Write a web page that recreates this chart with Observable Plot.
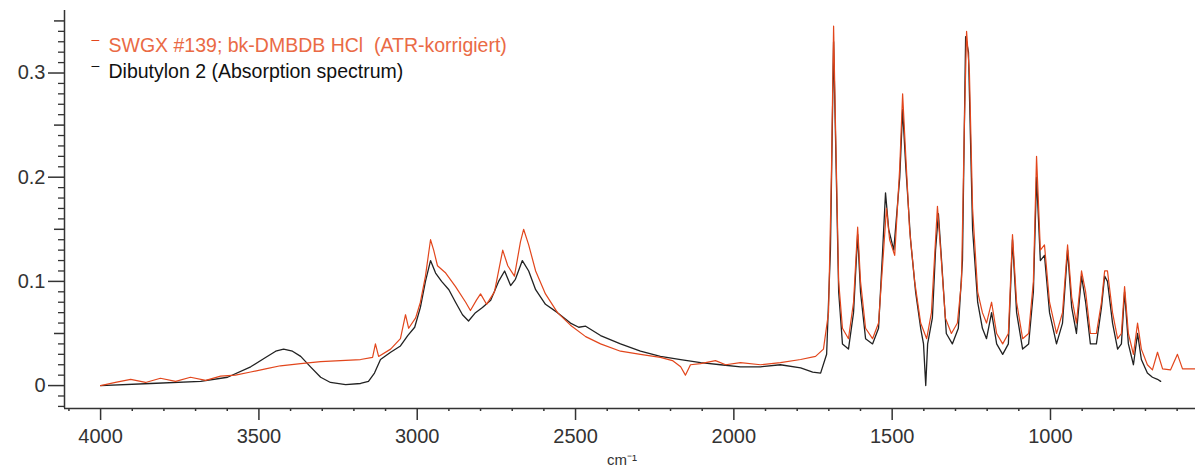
<!DOCTYPE html>
<html>
<head>
<meta charset="utf-8">
<script src="https://cdn.jsdelivr.net/npm/d3@7"></script>
<script src="https://cdn.jsdelivr.net/npm/@observablehq/plot@0.6"></script>
<style>
  html, body { margin: 0; padding: 0; background: #fff; }
  #chart { position: relative; width: 1195px; height: 475px; overflow: hidden; }
</style>
</head>
<body>
<div id="chart"></div>
<script>
// ---- data ----
const seriesNames = ["SWGX #139; bk-DMBDB HCl  (ATR-korrigiert)", "Dibutylon 2 (Absorption spectrum)"];

const redWn = [4000,3953,3905,3858,3811,3763,3716,3668,3621,3574,3526,3479,3432,3368,3305,3242,3179,3141,3132,3122,3084,3053,3037,3027,3005,2990,2974,2958,2948,2936,2910,2879,2847,2832,2813,2800,2781,2756,2730,2714,2693,2674,2664,2648,2626,2595,2557,2516,2468,2421,2358,2295,2232,2194,2168,2153,2137,2105,2058,2026,1979,1916,1853,1789,1742,1717,1701,1692,1685,1679,1669,1657,1638,1622,1609,1600,1584,1562,1543,1527,1518,1508,1492,1476,1467,1457,1445,1429,1410,1391,1376,1363,1357,1347,1332,1313,1294,1281,1272,1265,1256,1246,1230,1215,1202,1186,1170,1151,1133,1120,1107,1088,1069,1054,1044,1032,1019,1003,981,962,946,933,918,902,889,874,855,839,829,820,804,788,776,766,754,738,725,713,694,678,662,646,621,599,583,542];
const redAbs = [0.000,0.003,0.006,0.003,0.007,0.004,0.008,0.005,0.009,0.010,0.013,0.016,0.019,0.021,0.023,0.024,0.025,0.027,0.040,0.028,0.035,0.045,0.068,0.055,0.065,0.080,0.105,0.140,0.130,0.115,0.108,0.095,0.080,0.072,0.082,0.088,0.078,0.090,0.130,0.115,0.105,0.138,0.150,0.135,0.110,0.088,0.070,0.058,0.047,0.040,0.033,0.030,0.027,0.024,0.018,0.010,0.020,0.021,0.024,0.020,0.022,0.020,0.022,0.025,0.028,0.035,0.070,0.200,0.345,0.250,0.100,0.055,0.045,0.080,0.152,0.100,0.055,0.045,0.060,0.130,0.170,0.140,0.125,0.210,0.280,0.220,0.150,0.100,0.060,0.045,0.070,0.140,0.172,0.130,0.065,0.050,0.060,0.100,0.250,0.340,0.300,0.170,0.090,0.070,0.060,0.080,0.050,0.040,0.050,0.145,0.080,0.045,0.050,0.100,0.220,0.130,0.135,0.080,0.050,0.070,0.135,0.085,0.060,0.110,0.090,0.050,0.050,0.080,0.110,0.110,0.070,0.045,0.050,0.095,0.050,0.030,0.060,0.035,0.020,0.015,0.032,0.016,0.015,0.030,0.016,0.016];

const blackWn = [4000,3842,3684,3599,3526,3479,3447,3422,3394,3368,3337,3305,3274,3226,3179,3154,3135,3116,3084,3053,3030,3008,2990,2974,2958,2942,2923,2900,2879,2857,2838,2816,2794,2768,2743,2724,2705,2690,2668,2648,2626,2595,2557,2532,2516,2490,2468,2421,2358,2295,2232,2168,2105,2042,1979,1916,1853,1789,1751,1726,1707,1695,1685,1679,1669,1657,1638,1622,1609,1600,1584,1562,1543,1530,1521,1511,1495,1476,1467,1457,1442,1426,1410,1401,1394,1388,1373,1363,1354,1344,1329,1310,1291,1278,1268,1259,1246,1230,1215,1202,1186,1170,1151,1133,1120,1107,1088,1069,1054,1044,1032,1019,1003,981,962,946,933,918,902,889,874,855,839,829,820,804,788,776,766,754,738,725,713,694,678,662,652];
const blackAbs = [0.000,0.002,0.004,0.008,0.018,0.027,0.033,0.035,0.033,0.028,0.018,0.008,0.003,0.001,0.002,0.004,0.012,0.025,0.032,0.038,0.048,0.056,0.075,0.100,0.120,0.108,0.100,0.092,0.080,0.068,0.062,0.070,0.075,0.082,0.100,0.110,0.096,0.102,0.120,0.110,0.092,0.078,0.070,0.064,0.060,0.056,0.057,0.048,0.040,0.033,0.028,0.025,0.022,0.020,0.018,0.018,0.020,0.017,0.013,0.012,0.030,0.130,0.330,0.240,0.090,0.040,0.035,0.070,0.145,0.090,0.045,0.040,0.055,0.130,0.185,0.150,0.130,0.200,0.265,0.210,0.140,0.090,0.055,0.040,0.000,0.040,0.065,0.130,0.165,0.120,0.050,0.040,0.055,0.120,0.335,0.320,0.150,0.080,0.055,0.045,0.070,0.040,0.030,0.040,0.140,0.070,0.035,0.040,0.090,0.200,0.120,0.125,0.070,0.040,0.060,0.130,0.075,0.050,0.105,0.080,0.040,0.040,0.075,0.105,0.100,0.060,0.035,0.040,0.090,0.040,0.020,0.050,0.025,0.012,0.008,0.006,0.004];

const xMajorTicks = [4000,3500,3000,2500,2000,1500,1000];
const xMinorTicks = [4100,3900,3800,3700,3600,3400,3300,3200,3100,2900,2800,2700,2600,2400,2300,2200,2100,1900,1800,1700,1600,1400,1300,1200,1100,900,800,700,600];
const yMajorTicks = [0,0.1,0.2,0.3];
const yMidTicks = [0.05,0.15,0.25,0.35];
const yMinorTicks = [-0.02,-0.01,0.01,0.02,0.03,0.04,0.06,0.07,0.08,0.09,0.11,0.12,0.13,0.14,0.16,0.17,0.18,0.19,0.21,0.22,0.23,0.24,0.26,0.27,0.28,0.29,0.31,0.32,0.33,0.34];
const xLabel = "cm\u207B\u00B9";

const xDomain = [4114, 542];
const yDomain = [-0.022, 0.36];

const red = redWn.map((w, i) => ({wn: w, a: redAbs[i]}));
const black = blackWn.map((w, i) => ({wn: w, a: blackAbs[i]}));

const redColor = "#e2461c";
const redText = "#ea6a45";
const ink = "#333";

const chart = Plot.plot({
  width: 1195,
  height: 475,
  marginLeft: 64,
  marginRight: 0,
  marginTop: 10,
  marginBottom: 67,
  style: {fontFamily: "'Liberation Sans', Arial, sans-serif", fontSize: "20px", color: ink, background: "#fff", overflow: "visible"},
  x: {domain: xDomain, axis: null},
  y: {domain: yDomain, axis: null},
  marks: [
    Plot.line(black, {x: "wn", y: "a", stroke: "#222", strokeWidth: 1.3}),
    Plot.line(red, {x: "wn", y: "a", stroke: redColor, strokeWidth: 1.2}),
    Plot.ruleX([xDomain[0]], {stroke: ink, strokeWidth: 1.5}),
    Plot.ruleY([yDomain[0]], {stroke: ink, strokeWidth: 1.5}),
    Plot.axisY(yMajorTicks, {label: null, tickSize: 16, tickPadding: 3, stroke: ink, strokeWidth: 1.5, fill: ink, fontSize: 20, tickFormat: d => d === 0 ? "0" : d.toFixed(1)}),
    Plot.axisY(yMidTicks, {label: null, tickSize: 10, stroke: ink, strokeWidth: 1.5, text: null}),
    Plot.axisY(yMinorTicks, {label: null, tickSize: 6, stroke: ink, strokeWidth: 1.3, text: null}),
    Plot.axisX(xMajorTicks, {label: null, tickSize: 12, tickPadding: 8, stroke: ink, strokeWidth: 1.5, fill: ink, fontSize: 20, tickFormat: d => String(d)}),
    Plot.axisX(xMinorTicks, {label: null, tickSize: 3, stroke: ink, strokeWidth: 1.5, text: null}),
    Plot.text([seriesNames[0]], {frameAnchor: "top-left", text: d => d, dx: 44, dy: 28, fill: redText, fontSize: 19.5, textAnchor: "start"}),
    Plot.text([seriesNames[1]], {frameAnchor: "top-left", text: d => d, dx: 44, dy: 54, fill: "#111", fontSize: 19.5, textAnchor: "start"}),
    Plot.text(["\u2013"], {frameAnchor: "top-left", text: d => d, dx: 27, dy: 24, fill: redColor, fontSize: 14, textAnchor: "start"}),
    Plot.text(["\u2013"], {frameAnchor: "top-left", text: d => d, dx: 27, dy: 50, fill: "#111", fontSize: 14, textAnchor: "start"}),
    Plot.text([xLabel], {frameAnchor: "bottom", text: d => d, dx: -8, dy: 56, fill: ink, fontSize: 15, textAnchor: "middle"})
  ]
});
document.getElementById("chart").appendChild(chart);
</script>
</body>
</html>
